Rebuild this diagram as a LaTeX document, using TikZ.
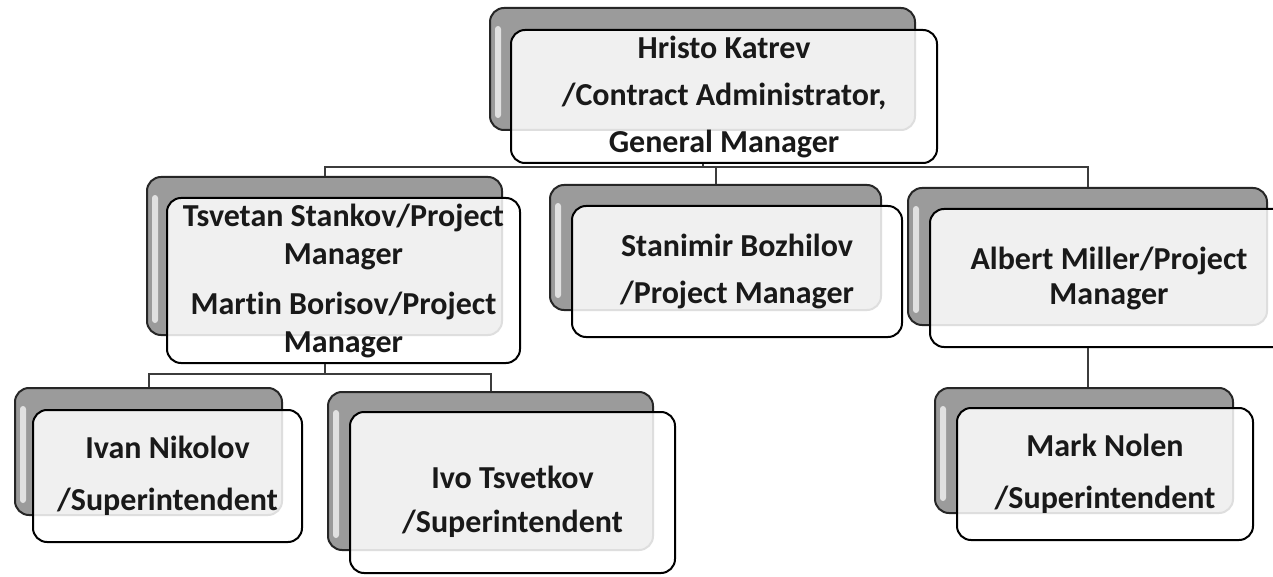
\documentclass[tikz,border=0pt]{standalone}
\usepackage{fontspec}
\setmainfont{Carlito}[Ligatures={NoCommon}]
\usetikzlibrary{fit}
\definecolor{backgray}{RGB}{155,155,155}
\definecolor{linegray}{RGB}{60,60,60}
\definecolor{txt}{RGB}{25,25,25}
\tikzset{
  backbox/.style={draw=black!85, line width=1pt, rounded corners=7pt, fill=backgray, inner sep=0pt,
    path picture={
      \fill[white, opacity=.7, rounded corners=1.5pt]
        ([xshift=2.5pt,yshift=-9pt]path picture bounding box.north west) rectangle
        ([xshift=5.5pt,yshift=6pt]path picture bounding box.south west);
    }},
  frontbox/.style 2 args={draw=black, line width=1pt, rounded corners=7pt, fill=white, fill opacity=.85,
    text opacity=1, inner sep=0pt, align=center, text=txt,
    minimum width=#1, minimum height=#2,
    font=\fontsize{16}{19}\selectfont\bfseries},
  conn/.style={draw=linegray, line width=1pt}
}
\begin{document}
\begin{tikzpicture}[x=0.5pt,y=-0.5pt]
\fill[white] (0,0) rectangle (1273,577);
\useasboundingbox (0,0) rectangle (1273,577);

% back boxes
\node[backbox, fit={(490,8) (915,130)}] (hkB) {};
\node[backbox, fit={(147,177) (502,335)}] (tsB) {};
\node[backbox, fit={(550,185) (881,310)}] (sbB) {};
\node[backbox, fit={(908,188) (1267,325)}] (amB) {};
\node[backbox, fit={(15,388) (282,515)}] (inB) {};
\node[backbox, fit={(328,392) (653,550)}] (itB) {};
\node[backbox, fit={(935,388) (1233,513)}] (mnB) {};

% front boxes
\node[frontbox={213pt}{66.5pt}] (hk) at (724,96.5) {Hristo Katrev\\[4.5pt]/Contract Administrator,\\[4.5pt]General Manager};
\node[frontbox={176.5pt}{82.5pt}] (ts) at (343.5,280.5) {Tsvetan Stankov/Project\\Manager\\[6pt]Martin Borisov/Project\\Manager};
\node[frontbox={165pt}{65.5pt}] (sb) at (737,271.5) {Stanimir Bozhilov\\[4.5pt]/Project Manager};
\node[frontbox={179pt}{69pt}] (am) at (1109,278) {Albert Miller/Project\\[-1.5pt]Manager};
\node[frontbox={134.5pt}{66pt}] (in) at (167.5,476) {Ivan Nikolov\\[7pt]/Superintendent};
\node[frontbox={162.5pt}{80.5pt}] (it) at (512.5,492.5) {\rule{0pt}{21pt}Ivo Tsvetkov\\[3pt]/Superintendent};
\node[frontbox={148pt}{66pt}] (mn) at (1105,474) {Mark Nolen\\[7pt]/Superintendent};

% connectors
\coordinate (bus) at (702.5,167);
\draw[conn] (hkB.south |- hk.south) -- (bus);
\draw[conn] (bus) -| (tsB.north);
\draw[conn] (bus) -| (sbB.north);
\draw[conn] (bus) -| (amB.north);
\coordinate (bus2) at (324.5,374);
\draw[conn] (tsB.south |- ts.south) -- (bus2);
\draw[conn] (bus2) -| (inB.north);
\draw[conn] (bus2) -| (itB.north);
\draw[conn] (amB.south |- am.south) -- (amB.south |- mnB.north);
\end{tikzpicture}
\end{document}
